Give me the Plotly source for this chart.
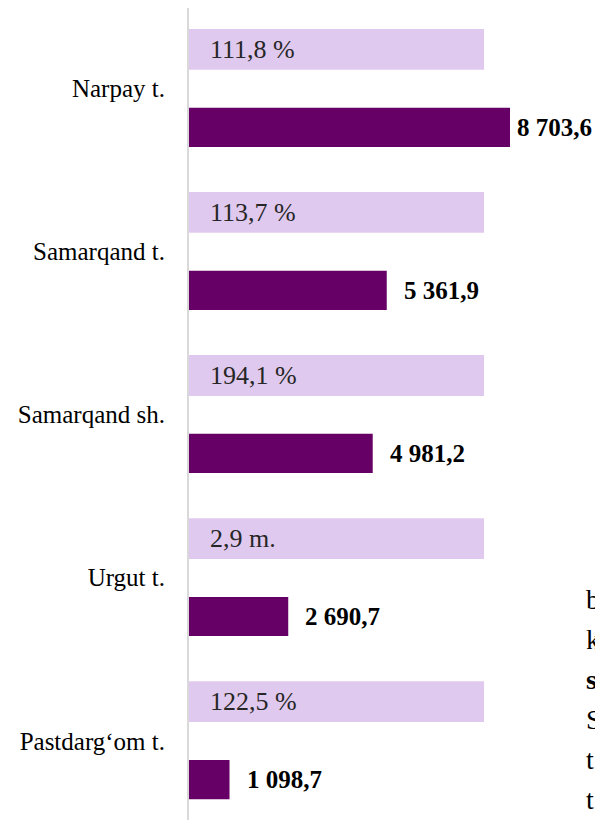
import plotly.graph_objects as go

# ---- data ----
categories = ["Narpay t.", "Samarqand t.", "Samarqand sh.", "Urgut t.", "Pastdarg‘om t."]
values = [8703.6, 5361.9, 4981.2, 2690.7, 1098.7]
value_labels = ["8 703,6", "5 361,9", "4 981,2", "2 690,7", "1 098,7"]
growth_labels = ["111,8 %", "113,7 %", "194,1 %", "2,9 m.", "122,5 %"]
background = [8000, 8000, 8000, 8000, 8000]
side_letters = ["b", "k", "s", "S", "t", "t"]
side_bold = [False, False, True, False, False, False]

LIGHT = "#E0C9EE"
DARK = "#660066"
FONT = "Liberation Serif, Times New Roman, serif"

# The page body adds an 8px offset; the figure is laid out to compensate.
OFF = 8
W, H = 603, 820
L_M, T_M, R_M, B_M = 181, 0, 8, 8
plot_w = W - L_M - R_M
plot_h = H - T_M - B_M
X_MAX = 11225

fig = go.Figure()
fig.add_trace(go.Bar(
    y=categories, x=background, orientation="h",
    marker=dict(color=LIGHT, line=dict(width=0)),
    width=0.25, offset=-0.365, hoverinfo="skip", showlegend=False,
))
fig.add_trace(go.Bar(
    y=categories, x=values, orientation="h",
    marker=dict(color=DARK, line=dict(width=0)),
    width=0.24, offset=0.118, showlegend=False,
))

annotations = []
for cat, g in zip(categories, growth_labels):
    annotations.append(dict(
        x=0, y=cat, xref="x", yref="y", text=g, showarrow=False,
        xanchor="left", yanchor="middle", xshift=19, yshift=39,
        font=dict(family=FONT, size=26, color="#262626"),
    ))
LABEL_W = 88  # approx label width in px (with safety)
for cat, v, lab in zip(categories, values, value_labels):
    bar_end = L_M + v / X_MAX * plot_w
    room = (W - OFF) - bar_end - LABEL_W
    shift = max(3, min(15, room))
    annotations.append(dict(
        x=v, y=cat, xref="x", yref="y", text="<b>" + lab + "</b>", showarrow=False,
        xanchor="left", yanchor="middle", xshift=shift, yshift=-39,
        font=dict(family=FONT, size=25, color="#000000"),
    ))
for i, (ch, b) in enumerate(zip(side_letters, side_bold)):
    px = 584 - OFF
    py = 599 + 40 * i - OFF
    annotations.append(dict(
        x=(px - L_M) / plot_w, y=1 - (py - T_M) / plot_h,
        xref="paper", yref="paper", text=("<b>%s</b>" % ch) if b else ch,
        showarrow=False, xanchor="left", yanchor="middle",
        font=dict(family=FONT, size=28, color="#000000"),
    ))

fig.update_layout(
    width=W, height=H,
    margin=dict(l=L_M, r=R_M, t=T_M, b=B_M, autoexpand=False),
    paper_bgcolor="white", plot_bgcolor="white",
    barmode="overlay",
    annotations=annotations,
    xaxis=dict(range=[0, X_MAX], visible=False, showgrid=False, zeroline=False),
    yaxis=dict(
        range=[4.486, -0.4937], showgrid=False, zeroline=False,
        showline=True, linecolor="#D9D9D9", linewidth=2,
        ticks="", ticklabelstandoff=17,
        tickfont=dict(family=FONT, size=25, color="#000000"),
    ),
)

fig.write_html("out.html")
